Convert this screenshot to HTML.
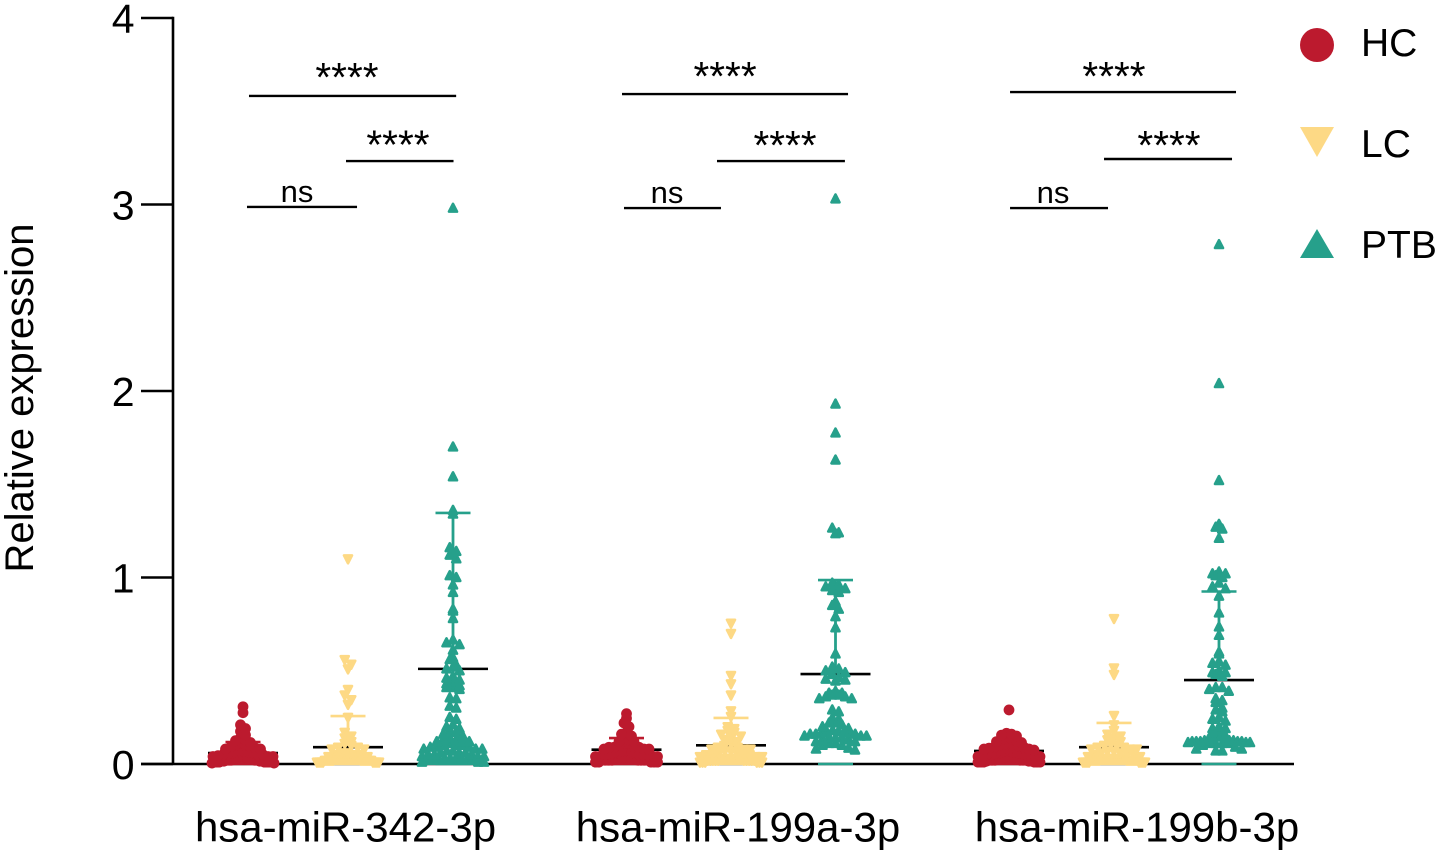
<!DOCTYPE html>
<html lang="en">
<head>
<meta charset="utf-8">
<title>Relative expression of miRNAs</title>
<style>
html,body{margin:0;padding:0;background:#fff;}
svg{display:block;font-family:"Liberation Sans",Arial,sans-serif;}
</style>
</head>
<body>
<svg id="chart" xmlns="http://www.w3.org/2000/svg" width="1441" height="852" viewBox="0 0 1441 852">
  <rect x="0" y="0" width="1441" height="852" fill="#ffffff"/>
  <g id="axes"></g>
  <g id="marks"></g>
  <g id="annotations"></g>
  <text transform="translate(33,398) rotate(-90)" font-size="40" text-anchor="middle" fill="#000">Relative expression</text>
  <g>
    <g>
      <circle cx="1317" cy="45" r="17" fill="#BC1A2E"/>
      <text x="1361" y="56" font-size="39" fill="#000">HC</text>
    </g>
    <g>
      <polygon points="1300,127 1334,127 1317,157" fill="#FDD985"/>
      <text x="1361" y="157" font-size="39" fill="#000">LC</text>
    </g>
    <g>
      <polygon points="1300,258 1334,258 1317,229" fill="#26A08B"/>
      <text x="1361" y="258" font-size="39" fill="#000">PTB</text>
    </g>
  </g>
</svg>
<script>
const categories = ["hsa-miR-342-3p", "hsa-miR-199a-3p", "hsa-miR-199b-3p"];
const seriesNames = ["HC", "LC", "PTB"];
const yTicks = [0, 1, 2, 3, 4];

const hc342 = [.307,.275,.21,.19,.175,.155,.14,.13,.125,.115,.11,.10,.10,.09,.09,.085,.08,.08,.07,.07,.065,.06,.06,.055,.05,.05,.05,.045,.04,.04,.04,.035,.035,.03,.03,.03,.03,.025,.025,.025,.02,.02,.02,.02,.02,.015,.015,.015,.015,.01,.01,.01,.01,.01,.01,.01,.005,.005];
const lc342 = [1.10,.56,.535,.51,.40,.37,.345,.32,.25,.17,.15,.14,.12,.11,.10,.09,.09,.08,.08,.06,.06,.05,.05,.05,.04,.04,.03,.03,.03,.03,.03,.03,.03,.03,.03,.03,.03,.03,.03,.02,.02,.02,.02,.02,.02,.02,.02,.02,.02,.02,.01,.01,.01,.01,.01,.01,.01,.01];
const ptb342 = [2.98,1.70,1.54,1.36,1.34,1.16,1.14,1.12,1.10,1.01,1.00,.96,.92,.83,.82,.78,.665,.65,.64,.61,.57,.56,.53,.52,.51,.50,.47,.46,.45,.44,.43,.42,.41,.41,.40,.355,.35,.31,.30,.25,.24,.21,.20,.19,.18,.17,.16,.15,.14,.13,.13,.12,.12,.12,.11,.10,.10,.10,.09,.09,.09,.08,.08,.08,.07,.07,.06,.06,.06,.05,.05,.05,.04,.04,.04,.03,.03,.03,.03,.02,.02,.02,.02,.02,.01,.01,.01];

const hc199a = [.27,.245,.22,.20,.17,.16,.15,.14,.13,.12,.12,.11,.11,.10,.10,.09,.09,.09,.08,.08,.08,.07,.07,.07,.06,.06,.06,.06,.05,.05,.05,.05,.05,.04,.04,.04,.04,.04,.04,.03,.03,.03,.03,.03,.03,.03,.02,.02,.02,.02,.02,.02,.02,.02,.01,.01,.01,.01,.01];
const lc199a = [.755,.70,.475,.43,.37,.285,.255,.20,.19,.18,.17,.16,.15,.14,.13,.12,.11,.10,.09,.09,.08,.08,.08,.07,.07,.06,.06,.06,.05,.05,.05,.04,.04,.04,.03,.03,.03,.03,.03,.03,.03,.03,.03,.02,.02,.02,.02,.02,.02,.02,.02,.02,.02,.01,.01,.01,.01,.01,.01];
const ptb199a = [3.03,1.93,1.775,1.63,1.265,1.24,1.235,.97,.96,.95,.94,.93,.92,.87,.85,.83,.79,.73,.59,.52,.51,.50,.49,.48,.465,.455,.45,.445,.39,.38,.38,.37,.37,.36,.36,.35,.35,.29,.28,.245,.24,.22,.22,.21,.20,.19,.18,.175,.17,.17,.165,.165,.16,.16,.16,.15,.15,.15,.14,.14,.14,.13,.13,.12,.12,.11,.11,.10,.10,.085,.08,.075];

const hc199b = [.29,.165,.16,.155,.15,.14,.135,.13,.125,.12,.115,.11,.105,.10,.10,.095,.09,.09,.085,.08,.08,.075,.07,.07,.065,.06,.06,.06,.055,.05,.05,.05,.045,.04,.04,.04,.04,.035,.03,.03,.03,.03,.03,.025,.025,.02,.02,.02,.02,.02,.02,.015,.015,.015,.01,.01,.01,.01,.01,.01];
const lc199b = [.78,.515,.48,.26,.21,.18,.16,.15,.14,.13,.12,.11,.10,.10,.09,.09,.08,.08,.08,.07,.07,.06,.06,.06,.05,.05,.04,.04,.03,.03,.03,.03,.03,.03,.03,.03,.03,.03,.03,.03,.03,.02,.02,.02,.02,.02,.02,.02,.02,.02,.02,.02,.01,.01,.01,.01,.01,.01,.01,.01];
const ptb199b = [2.785,2.04,1.52,1.285,1.27,1.26,1.21,1.03,1.02,1.02,1.01,1.00,.97,.95,.94,.90,.81,.735,.69,.60,.59,.55,.54,.53,.50,.49,.49,.48,.47,.41,.41,.40,.39,.35,.34,.33,.30,.29,.28,.25,.24,.23,.20,.19,.19,.18,.17,.15,.145,.145,.14,.14,.135,.125,.125,.125,.12,.12,.12,.12,.12,.115,.115,.115,.11,.11,.11,.11,.10,.09,.08,.08,.07,.07];

const seriesValues = [[hc342, lc342, ptb342], [hc199a, lc199a, ptb199a], [hc199b, lc199b, ptb199b]];
const meanValues = [[.059, .09, .51], [.077, .10, .482], [.07, .09, .45]];
const upperValues = [[.118, .257, 1.346], [.139, .247, .986], [.12, .22, .925]];
const lowerValues = [[0, 0, 0], [0, 0, 0], [0, 0, 0]];

const brackets = [
  {label:"****", group:0, from:.057,  to:2.03,  level:3.582, labelAt:.99,   labelLevel:3.609, name:"bracket-342-hc-ptb"},
  {label:"****", group:0, from:.981,  to:2.005, level:3.233, labelAt:1.476, labelLevel:3.247, name:"bracket-342-lc-ptb"},
  {label:"ns",   group:0, from:.038,  to:1.086, level:2.987, labelAt:.514,  labelLevel:3.013, name:"bracket-342-hc-lc"},
  {label:"****", group:1, from:-.043, to:2.12,  level:3.592, labelAt:.943,  labelLevel:3.614, name:"bracket-199a-hc-ptb"},
  {label:"****", group:1, from:.866,  to:2.09,  level:3.233, labelAt:1.517, labelLevel:3.244, name:"bracket-199a-lc-ptb"},
  {label:"ns",   group:1, from:-.024, to:.904,  level:2.981, labelAt:.388,  labelLevel:3.008, name:"bracket-199a-hc-lc"},
  {label:"****", group:2, from:.01,   to:2.162, level:3.603, labelAt:1.0,   labelLevel:3.614, name:"bracket-199b-hc-ptb"},
  {label:"****", group:2, from:.905,  to:2.124, level:3.244, labelAt:1.524, labelLevel:3.244, name:"bracket-199b-lc-ptb"},
  {label:"ns",   group:2, from:.01,   to:.943,  level:2.981, labelAt:.419,  labelLevel:3.008, name:"bracket-199b-hc-lc"}
];

const NS = "http://www.w3.org/2000/svg";
const colors = ["#BC1A2E", "#FDD985", "#26A08B"];
const groupStarts = [243, 626.5, 1009];
const seriesGap = [105, 104.5, 105];
const swarmHalfWidth = 31;
const swarmBin = 0.0375;

function yScale(v) { return 764 - v * 186.5; }
function xScale(g, s) { return groupStarts[g] + s * seriesGap[g]; }

function el(tag, attrs, parent) {
  const n = document.createElementNS(NS, tag);
  for (const k in attrs) n.setAttribute(k, attrs[k]);
  parent.appendChild(n);
  return n;
}

// Prism-style swarm: values fall into rows; each row spreads out from the centre
function swarm(values, cx, step) {
  const rows = {};
  values.forEach(v => {
    const r = Math.floor(v / swarmBin);
    (rows[r] = rows[r] || []).push(v);
  });
  const out = [];
  Object.keys(rows).forEach(r => {
    const row = rows[r].slice().sort((a, b) => b - a);
    const n = row.length;
    const gap = n > 1 ? Math.min(step, 2 * swarmHalfWidth / (n - 1)) : 0;
    const slots = row.map((_, i) => (i - (n - 1) / 2) * gap)
      .sort((a, b) => Math.abs(a) - Math.abs(b));
    row.forEach((v, i) => out.push({x: cx + slots[i], y: yScale(v)}));
  });
  return out;
}

const axes = document.getElementById("axes");
const marks = document.getElementById("marks");
const annotations = document.getElementById("annotations");

const yAxisLine = el("line", {x1:173, y1:yScale(4) - 1.3, x2:173, y2:yScale(0), stroke:"#000", "stroke-width":2.6}, axes);


const xAxisLine = el("line", {x1:141, y1:yScale(0), x2:1294, y2:yScale(0), stroke:"#000", "stroke-width":2.6}, axes);



yTicks.forEach(t => {
  const tick = el("line", {x1:141, y1:yScale(t), x2:173, y2:yScale(t), stroke:"#000", "stroke-width":2.6}, axes);
  
  
  const lab = el("text", {x:134.5, y:yScale(t) + 15, "font-size":41, "text-anchor":"end", fill:"#000"}, axes);
  
  
  lab.textContent = String(t);
});

categories.forEach((c, g) => {
  const lab = el("text", {x:[345.5, 738, 1137][g], y:841.5, "font-size":42, "text-anchor":"middle", fill:"#000"}, axes);
  
  
  lab.textContent = c;
});

function drawPoint(s, x, y, parent) {
  if (s === 0) {
    const c = el("circle", {cx:x, cy:y, r:5.4, fill:colors[0]}, parent);
    
    
  } else if (s === 1) {
    const p = el("polygon", {points:`${x-4},${y-3.4} ${x+4},${y-3.4} ${x},${y+4.4}`, fill:colors[1], stroke:colors[1], "stroke-width":2.6, "stroke-linejoin":"round"}, parent);
    
    
  } else {
    const p = el("polygon", {points:`${x-4},${y+3.4} ${x+4},${y+3.4} ${x},${y-4.4}`, fill:colors[2], stroke:colors[2], "stroke-width":2.6, "stroke-linejoin":"round"}, parent);
    
    
  }
}

seriesValues.forEach((groupVals, g) => {
  groupVals.forEach((vals, s) => {
    const cx = xScale(g, s);
    const color = colors[s];
    const stem = el("line", {x1:cx, x2:cx, y1:yScale(upperValues[g][s]), y2:yScale(meanValues[g][s]), stroke:color, "stroke-width":2.8}, marks);
    
    
    const up = el("line", {x1:cx-17.5, x2:cx+17.5, y1:yScale(upperValues[g][s]), y2:yScale(upperValues[g][s]), stroke:color, "stroke-width":2.6}, marks);
    
    
    const low = el("line", {x1:cx-17.5, x2:cx+17.5, y1:yScale(lowerValues[g][s]), y2:yScale(lowerValues[g][s]), stroke:color, "stroke-width":2.6}, marks);
    
    
    const mean = el("line", {x1:cx-35, x2:cx+35, y1:yScale(meanValues[g][s]), y2:yScale(meanValues[g][s]), stroke:"#000", "stroke-width":2.6}, marks);
    
    
    swarm(vals, cx, s === 0 ? 5 : 6.5).forEach(p => drawPoint(s, p.x, p.y, marks));
  });
});

brackets.forEach(b => {
  const x1 = xScale(b.group, b.from), x2 = xScale(b.group, b.to), y = yScale(b.level);
  const line = el("line", {x1, x2, y1:y, y2:y, stroke:"#000", "stroke-width":2.4}, annotations);
  
  
  const t = el("text", {x:xScale(b.group, b.labelAt), y:yScale(b.labelLevel), "font-size": b.label === "ns" ? 31 : 40.6, "text-anchor":"middle", fill:"#000"}, annotations);
  
  
  t.textContent = b.label;
});
</script>
</body>
</html>
